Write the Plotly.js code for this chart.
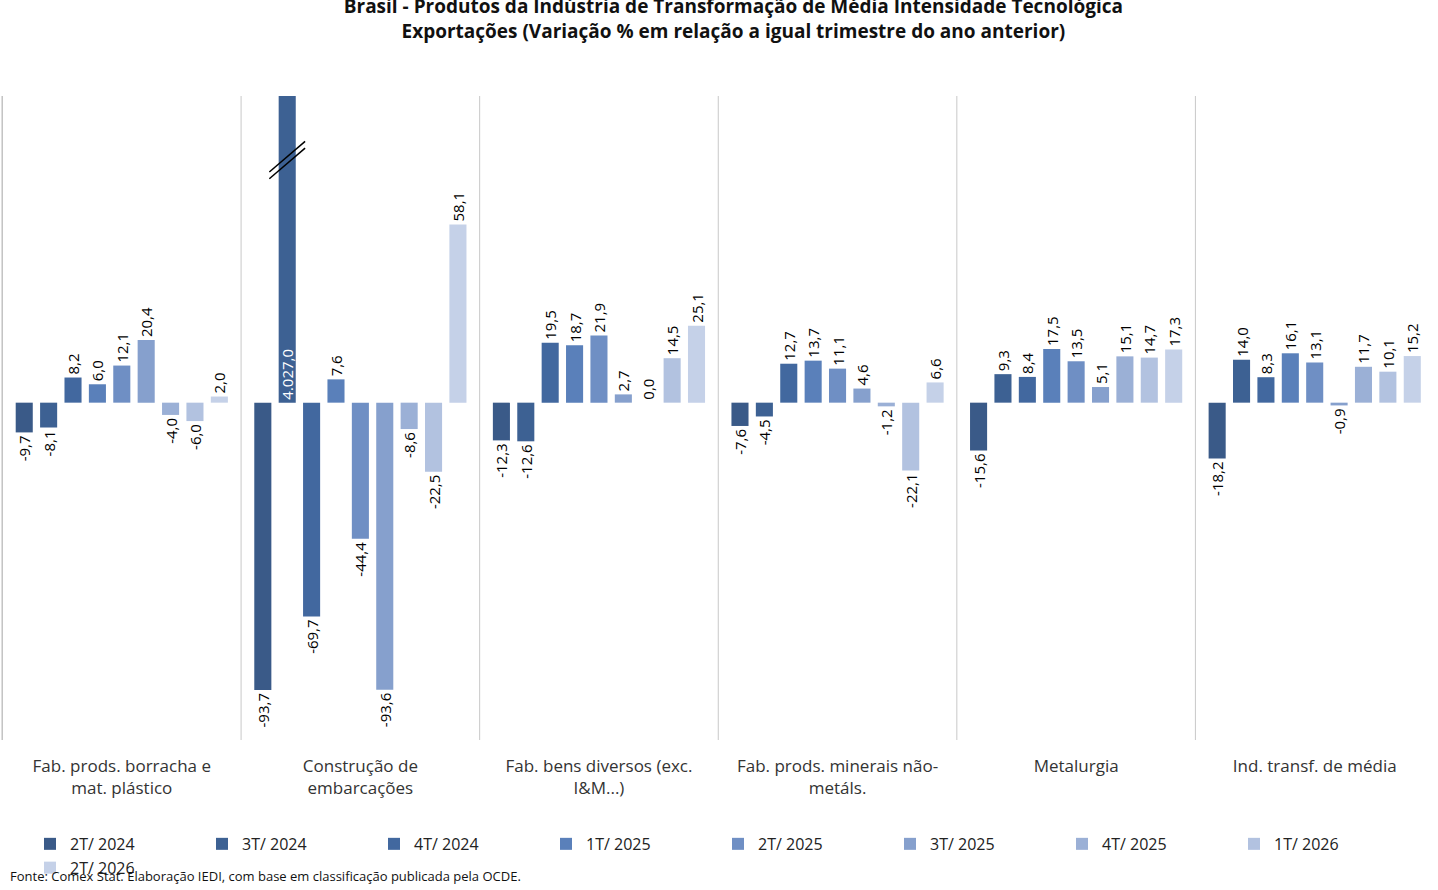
<!DOCTYPE html>
<html><head><meta charset="utf-8">
<script src="https://cdn.plot.ly/plotly-3.0.1.min.js"></script>
<style>body{margin:0;background:#fff}#plotDiv{width:1438px;height:890px}</style>
</head><body><div id="plotDiv"></div>
<script>
// Categories and quarterly series (variação % vs mesmo trimestre do ano anterior)
const categories = ['Fab. prods. borracha e<br>mat. plástico', 'Construção de<br>embarcações',
    'Fab. bens diversos (exc.<br>I&M...)', 'Fab. prods. minerais não-<br>metáls.', 'Metalurgia', 'Ind. transf. de média'];
const quarters = ['2T/ 2024', '3T/ 2024', '4T/ 2024', '1T/ 2025', '2T/ 2025', '3T/ 2025', '4T/ 2025', '1T/ 2026', '2T/ 2026'];
const q2_2024 = [-9.7, -93.7, -12.3, -7.6, -15.6, -18.2];
const q3_2024 = [-8.1, 4027.0, -12.6, -4.5, 9.3, 14.0];
const q4_2024 = [8.2, -69.7, 19.5, 12.7, 8.4, 8.3];
const q1_2025 = [6.0, 7.6, 18.7, 13.7, 17.5, 16.1];
const q2_2025 = [12.1, -44.4, 21.9, 11.1, 13.5, 13.1];
const q3_2025 = [20.4, -93.6, 2.7, 4.6, 5.1, -0.9];
const q4_2025 = [-4.0, -8.6, 0.0, -1.2, 15.1, 11.7];
const q1_2026 = [-6.0, -22.5, 14.5, -22.1, 14.7, 10.1];
const q2_2026 = [2.0, 58.1, 25.1, 6.6, 17.3, 15.2];
const seriesValues = [q2_2024, q3_2024, q4_2024, q1_2025, q2_2025, q3_2025, q4_2025, q1_2026, q2_2026];
const colors = ['#3a5a88', '#3d6193', '#42689f', '#5a80ba', '#6f8fc4', '#86a0cd', '#9bb0d6', '#b2c2e0', '#c5d1e8'];

const Y_MAX = 100;
const FONT = 'Open Sans, DejaVu Sans, sans-serif';

const traces = seriesValues.map((vals, i) => ({
    type: 'bar',
    name: quarters[i],
    x: categories,
    y: vals,
    marker: { color: colors[i] },
    texttemplate: '%{y:,.1f}',
    textangle: -90,
    textposition: vals.map(v => v > Y_MAX ? 'inside' : 'outside'),
    insidetextanchor: 'start',
    insidetextfont: { color: '#ffffff', size: 15, family: FONT },
    outsidetextfont: { color: '#000000', size: 15, family: FONT },
    constraintext: 'none',
    cliponaxis: true,
    hoverinfo: 'x+y+name',
}));

// Category separators
const shapes = [];
for (let i = 0; i <= categories.length - 1; i++) {
    shapes.push({ type: 'line', xref: 'x', yref: 'paper', x0: i - 0.5, x1: i - 0.5, y0: 0, y1: 1,
        line: { color: '#c8c8c8', width: 1 } });
}
// Axis break mark on the truncated bar (3T/2024, Construção)
const bgap = 0.08, nSer = quarters.length;
const bx = 1 + (1 - (nSer - 1) / 2) * (1 - bgap) / nSer;
[0, 2.2].forEach(d => shapes.push({ type: 'line', xref: 'x', yref: 'y',
    x0: bx - 0.075, x1: bx + 0.075, y0: 73 + d, y1: 83 + d, line: { color: '#000', width: 1.5 } }));

const layout = {
    width: 1438, height: 890,
    paper_bgcolor: '#fff', plot_bgcolor: '#fff',
    font: { family: FONT, size: 16, color: '#222' },
    separators: ',.',
    uniformtext: { minsize: 15, mode: 'show' },
    title: { text: '<b>Brasil - Produtos da Indústria de Transformação de Média Intensidade Tecnológica<br>Exportações (Variação % em relação a igual trimestre do ano anterior)</b>',
        x: 0.51, yref: 'container', y: 0.985, yanchor: 'top', font: { size: 19, color: '#111' } },
    barmode: 'group', bargap: bgap, bargroupgap: 0.3,
    margin: { l: 2, r: 4, t: 96, b: 150 },
    xaxis: { type: 'category', showline: false, ticks: '', tickfont: { size: 17, color: '#333' }, ticklabelstandoff: 14 },
    yaxis: { range: [-110, Y_MAX], visible: false, zeroline: true, zerolinecolor: '#bfbfbf', zerolinewidth: 1 },
    showlegend: true,
    legend: { orientation: 'h', x: 0.5, xanchor: 'center', y: -0.135, yanchor: 'top',
        font: { size: 16, color: '#222' }, itemwidth: 30, entrywidth: 127, entrywidthmode: 'pixels',
        traceorder: 'normal' },
    shapes: shapes.concat([{ type: 'line', xref: 'paper', yref: 'paper', x0: 0, x1: 0, y0: 0, y1: 1,
        line: { color: '#bfbfbf', width: 1 } }]),
    annotations: [{ text: 'Fonte: Comex Stat. Elaboração IEDI, com base em classificação publicada pela OCDE.',
        xref: 'paper', yref: 'paper', x: 0.004, y: -0.211, xanchor: 'left', yanchor: 'middle',
        showarrow: false, font: { size: 13, color: '#111' } }],
};

Plotly.newPlot('plotDiv', traces, layout, { displayModeBar: false });
</script></body></html>
